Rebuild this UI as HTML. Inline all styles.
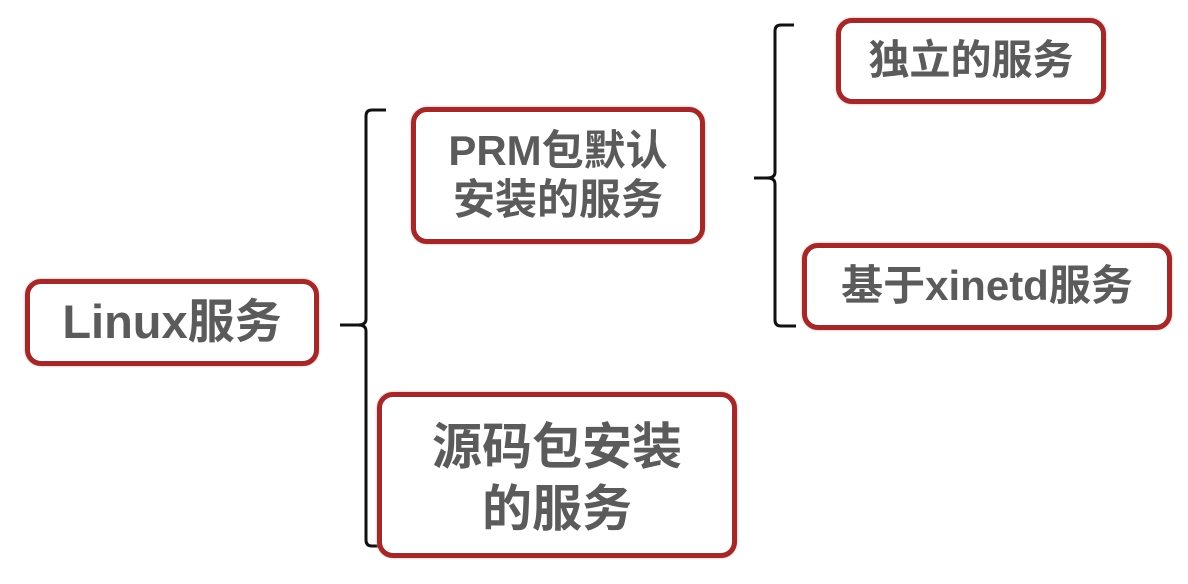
<!DOCTYPE html>
<html><head><meta charset="utf-8"><style>
body{margin:0;width:1188px;height:584px;background:#fff;position:relative;overflow:hidden;font-family:"Liberation Sans","Noto Sans CJK SC",sans-serif;}
.b{position:absolute;box-sizing:border-box;border:5px solid #a3282a;border-radius:16px;display:flex;align-items:center;justify-content:center;text-align:center;color:#5b5b5b;font-weight:bold;line-height:1.15;background:#fff;box-shadow:0 0 2px #d99;white-space:nowrap;}
</style></head><body>
<svg width="1188" height="584" style="position:absolute;left:0;top:0">
<path d="M386 110 H372 Q366 110 366 116 V319 Q366 325 358 325 H340 M358 325 Q366 325 366 331 V540 Q366 546 372 546 H384" fill="none" stroke="#111" stroke-width="3"/>
<path d="M794 25 H781 Q775 25 775 31 V172 Q775 178 767 178 H754 M767 178 Q775 178 775 184 V320 Q775 326 781 326 H796" fill="none" stroke="#111" stroke-width="3"/>
</svg>
<div class="b" style="left:25px;top:279px;width:294px;height:87px;font-size:47px">Linux服务</div>
<div class="b" style="left:411px;top:107px;width:294px;height:137px;font-size:42px">PRM包默认<br>安装的服务</div>
<div class="b" style="left:377px;top:392px;width:360px;height:166px;font-size:50px;line-height:1.25;padding-top:6px">源码包安装<br>的服务</div>
<div class="b" style="left:836px;top:18px;width:270px;height:86px;font-size:41px">独立的服务</div>
<div class="b" style="left:802px;top:243px;width:370px;height:87px;font-size:42px">基于xinetd服务</div>
</body></html>
